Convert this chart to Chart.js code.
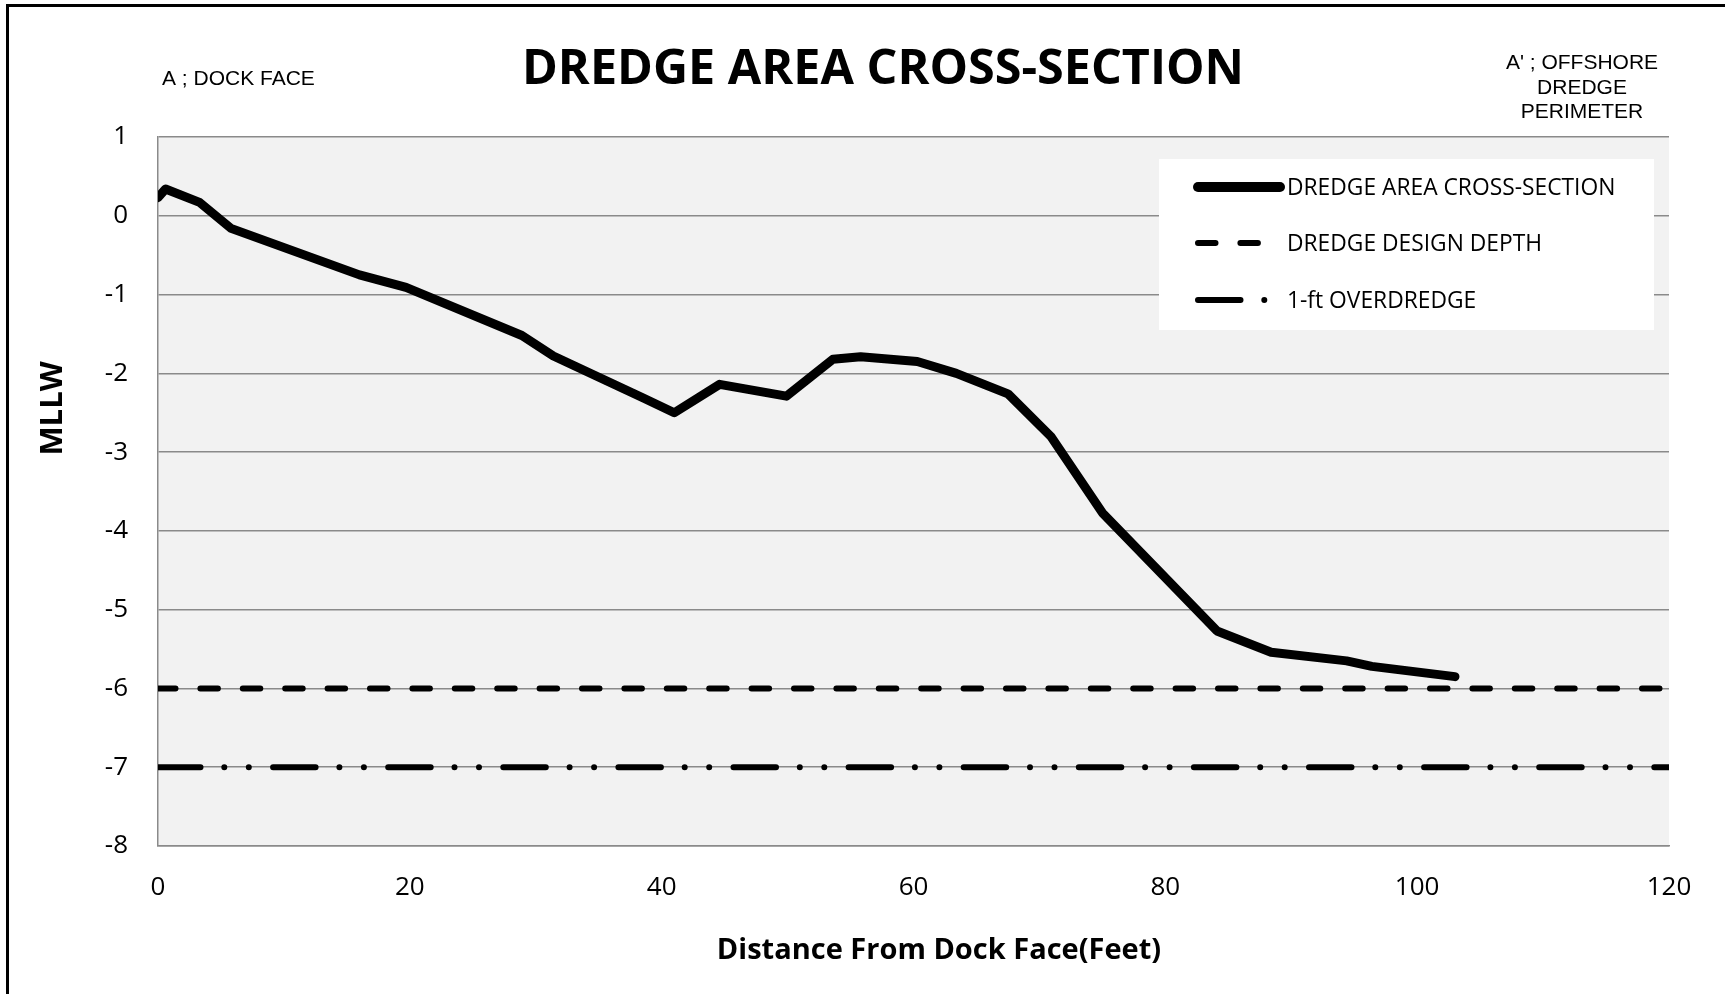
<!DOCTYPE html>
<html><head><meta charset="utf-8">
<script src="https://cdn.jsdelivr.net/npm/chart.js@4"></script>
<style>
html,body{margin:0;padding:0;background:#fff;}
#wrap{position:relative;width:1725px;height:994px;overflow:hidden;background:#fff;}
#frame{position:absolute;left:6px;top:4px;width:3000px;height:3000px;border:3px solid #000;pointer-events:none;}
canvas{display:block;}
</style></head><body>
<div id="wrap"><canvas id="c"></canvas><div id="frame"></div></div>
<script>
// ---- text ----
const chartTitle = 'DREDGE AREA CROSS-SECTION';
const xAxisTitle = 'Distance From Dock Face(Feet)';
const yAxisTitle = 'MLLW';
const leftNote = ['A ; DOCK FACE'];
const rightNote = ["A' ; OFFSHORE", 'DREDGE', 'PERIMETER'];
const seriesNames = ['DREDGE AREA CROSS-SECTION', 'DREDGE DESIGN DEPTH', '1-ft OVERDREDGE'];

// ---- data ----
const distance = [0, 0.6, 3.3, 5.8, 16.0, 19.7, 28.9, 31.4, 38.5, 41.0, 44.6, 49.9, 53.6, 55.8, 60.3, 63.4, 67.5, 70.9, 75.0, 84.1, 88.4, 94.4, 96.4, 103.0];
const elevation = [0.23, 0.34, 0.17, -0.16, -0.75, -0.91, -1.52, -1.78, -2.31, -2.50, -2.14, -2.29, -1.82, -1.79, -1.85, -2.00, -2.26, -2.80, -3.77, -5.27, -5.54, -5.65, -5.72, -5.85];
const designX = [0, 120];
const designDepth = [-6, -6];
const overX = [0, 120];
const overDepth = [-7, -7];
const xTicks = [0, 20, 40, 60, 80, 100, 120];
const yTicks = [1, 0, -1, -2, -3, -4, -5, -6, -7, -8];

const pts = (xs, ys) => xs.map((x, i) => ({x: x, y: ys[i]}));

const GRID = '#8a8a8a';
const FONT = "'Open Sans', sans-serif";
const NOTE_FONT = "'Liberation Sans', Arial, sans-serif";

const decor = {
  id: 'decor',
  beforeDraw(chart) {
    const {ctx, chartArea: a} = chart;
    ctx.save();
    ctx.fillStyle = '#ffffff';
    ctx.fillRect(0, 0, chart.width, chart.height);
    ctx.fillStyle = '#f2f2f2';
    ctx.fillRect(a.left, a.top, a.right - a.left, a.bottom - a.top);
    ctx.restore();
  },
  afterDraw(chart) {
    const ctx = chart.ctx;
    ctx.save();
    ctx.fillStyle = '#000';
    // title
    ctx.font = "bold 48.5px " + FONT;
    ctx.textAlign = 'center';
    ctx.textBaseline = 'alphabetic';
    ctx.fillText(chartTitle, 883, 84);
    // notes
    ctx.font = "21px " + NOTE_FONT;
    ctx.textAlign = 'left';
    ctx.fillText(leftNote[0], 162, 85);
    ctx.textAlign = 'center';
    rightNote.forEach((t, i) => ctx.fillText(t, 1582, 69 + i * 24.5));
    // x axis title
    ctx.font = "bold 29px " + FONT;
    ctx.fillText(xAxisTitle, 939, 959);
    // y axis title
    ctx.save();
    ctx.translate(61.5, 408.5);
    ctx.rotate(-Math.PI / 2);
    ctx.font = "bold 31px " + FONT;
    ctx.textAlign = 'center';
    ctx.fillText(yAxisTitle, 0, 0);
    ctx.restore();
    // legend
    ctx.fillStyle = '#ffffff';
    ctx.fillRect(1159, 159, 495, 171);
    const rows = [187, 243, 300];
    const ends = [1280, 1258, 1266];
    chart.data.datasets.forEach((ds, i) => {
      ctx.save();
      ctx.strokeStyle = ds.borderColor;
      ctx.lineWidth = i === 0 ? 10 : ds.borderWidth;
      ctx.lineCap = 'round';
      ctx.setLineDash(ds.borderDash || []);
      ctx.beginPath();
      ctx.moveTo(1198, rows[i]);
      ctx.lineTo(ends[i], rows[i]);
      ctx.stroke();
      ctx.restore();
      ctx.fillStyle = '#000';
      ctx.font = "22.8px " + FONT;
      ctx.textAlign = 'left';
      ctx.textBaseline = 'alphabetic';
      ctx.fillText(ds.label, 1287, rows[i] + 8);
    });
    ctx.restore();
  }
};

new Chart(document.getElementById('c'), {
  type: 'line',
  data: {
    datasets: [
      {label: seriesNames[0], data: pts(distance, elevation), borderColor: '#000', borderWidth: 9,
       borderCapStyle: 'round', borderJoinStyle: 'round', pointRadius: 0, tension: 0, fill: false},
      {label: seriesNames[1], data: pts(designX, designDepth), borderColor: '#000', borderWidth: 6,
       borderDash: [17.5, 24.9], borderCapStyle: 'round', pointRadius: 0, fill: false},
      {label: seriesNames[2], data: pts(overX, overDepth), borderColor: '#000', borderWidth: 6,
       borderDash: [42.5, 23.8, 0, 24.5, 0, 24.3], borderCapStyle: 'round', pointRadius: 0, fill: false}
    ]
  },
  options: {
    responsive: true,
    maintainAspectRatio: false,
    animation: false,
    devicePixelRatio: 1,
    layout: {padding: {left: 0, top: 137, right: 56, bottom: 0}},
    plugins: {legend: {display: false}, title: {display: false}, tooltip: {enabled: false}},
    scales: {
      x: {
        type: 'linear', min: xTicks[0], max: xTicks[xTicks.length - 1],
        afterBuildTicks: s => { s.ticks = xTicks.map(v => ({value: v})); },
        ticks: {font: {family: FONT, size: 26}, color: '#000', padding: 26, maxRotation: 0},
        grid: {drawOnChartArea: false, drawTicks: false},
        border: {display: true, color: GRID, width: 1.5},
        afterFit: s => { s.height = 148; }
      },
      y: {
        type: 'linear', min: yTicks[yTicks.length - 1], max: yTicks[0],
        afterBuildTicks: s => { s.ticks = yTicks.slice().reverse().map(v => ({value: v})); },
        ticks: {font: {family: FONT, size: 26}, color: '#000', padding: 30},
        grid: {color: GRID, lineWidth: 1.5, drawTicks: false},
        border: {display: true, color: GRID, width: 1.5},
        afterFit: s => { s.width = 158; }
      }
    }
  },
  plugins: [decor]
});
</script>
</body></html>
